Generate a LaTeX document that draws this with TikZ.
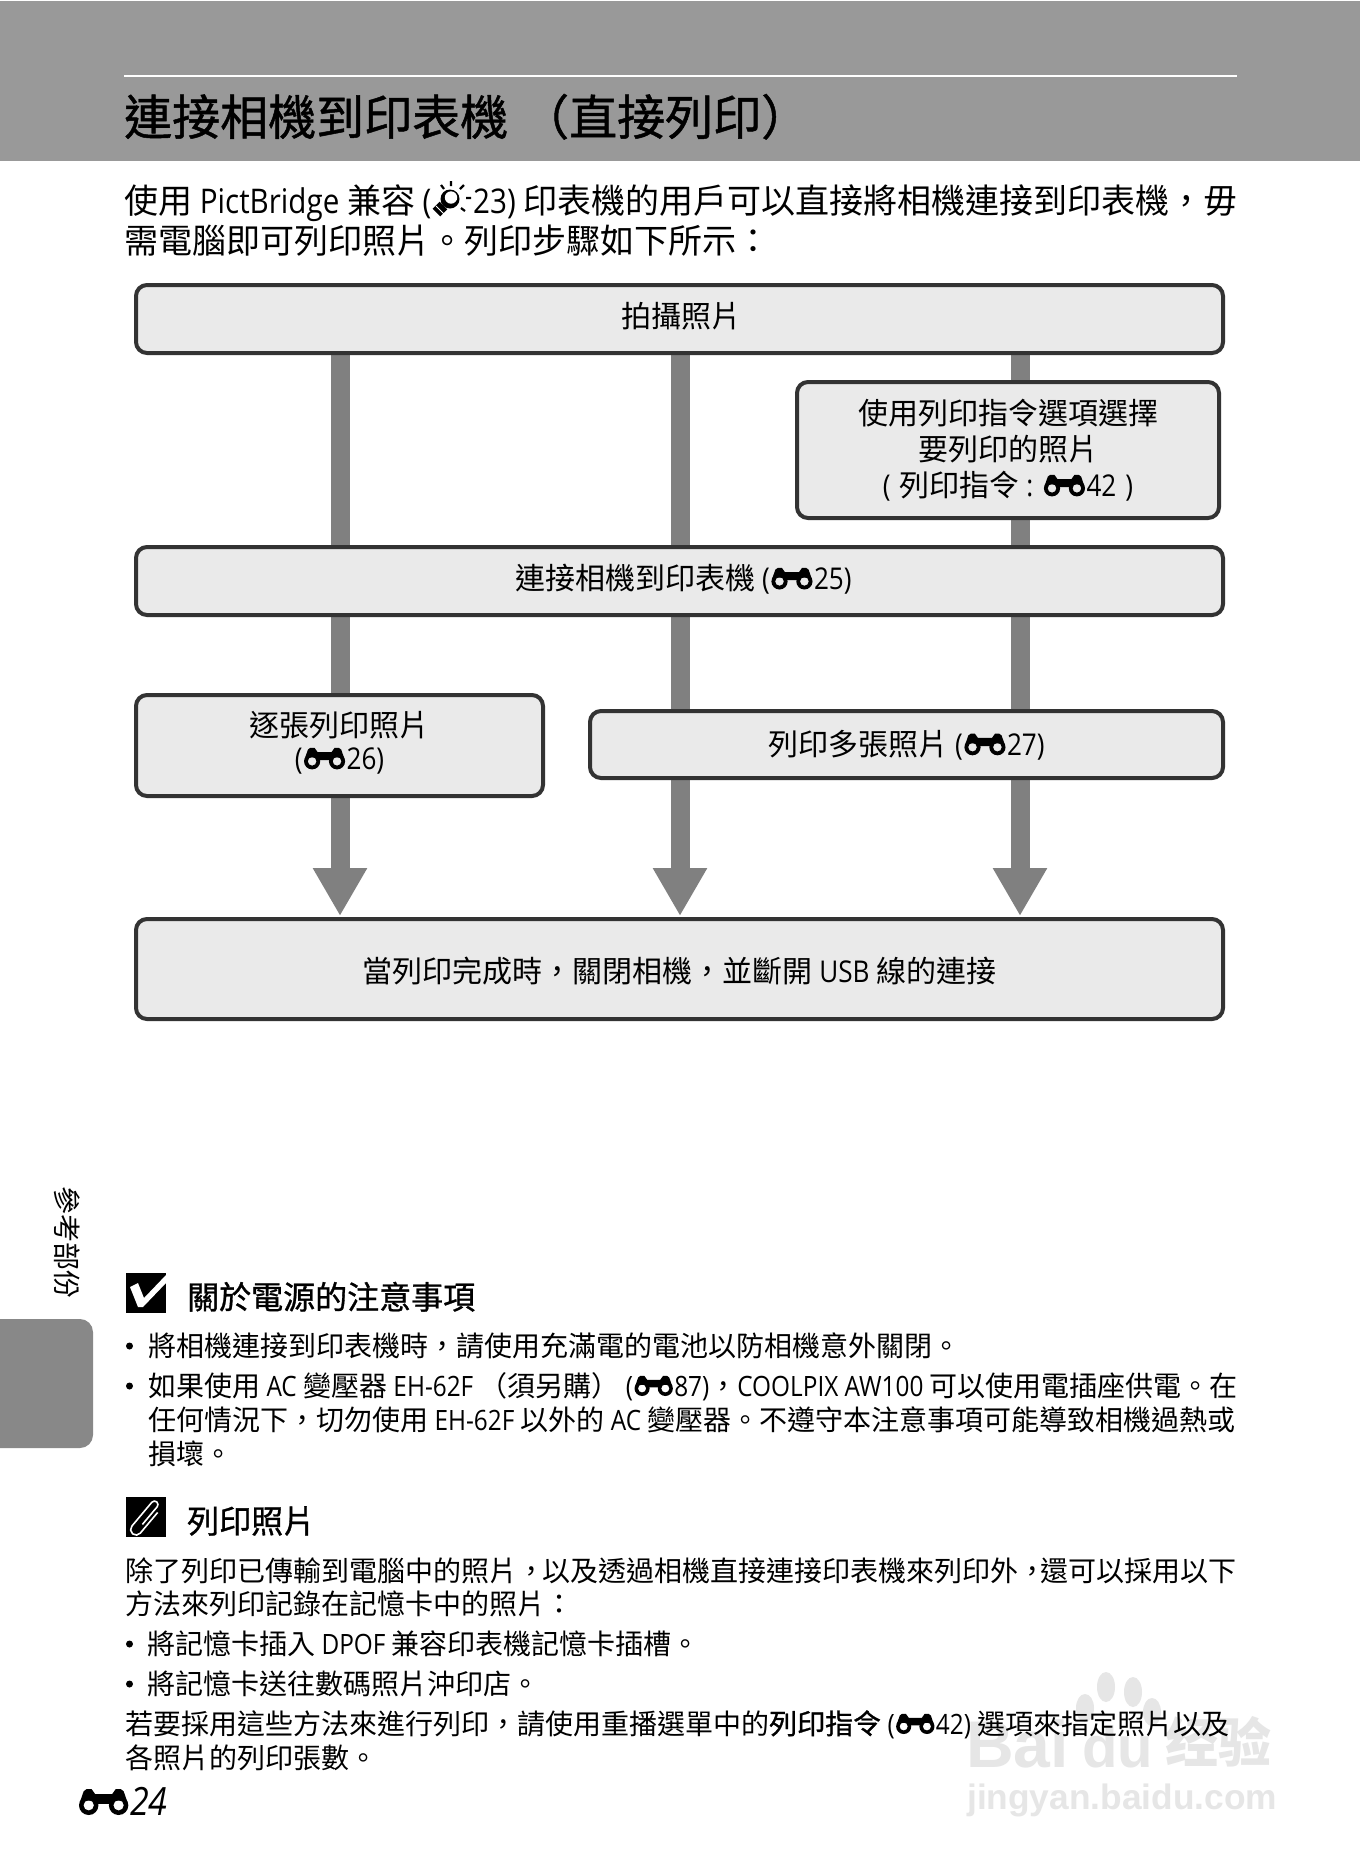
\documentclass[tikz,border=0pt]{standalone}
\usepackage{fontspec}
\usetikzlibrary{arrows.meta}
\setmainfont{Noto Sans CJK TC}
\newfontfamily\semib[FakeBold=1.0]{Noto Sans CJK TC}
\newfontfamily\latfont[FakeStretch=.87]{Open Sans}
\newfontfamily\wmfont{Liberation Sans}
\newfontfamily\wmcjk{Noto Sans CJK SC}
\newcommand\la[1]{{\latfont #1}}
\newcommand\bino{\hspace{.05em}\begin{pgfpicture}%
\pgfsetcornersarced{\pgfpointorigin}%
\pgfseteorule
\pgfpathcircle{\pgfpoint{.28em}{.27em}}{.27em}%
\pgfpathcircle{\pgfpoint{.28em}{.27em}}{.145em}%
\pgfpathcircle{\pgfpoint{1.11em}{.27em}}{.27em}%
\pgfpathcircle{\pgfpoint{1.11em}{.27em}}{.145em}%
\pgfusepath{fill}%
\pgfsetnonzerorule
\pgfpathmoveto{\pgfpoint{.05em}{.4em}}%
\pgfpathlineto{\pgfpoint{.14em}{.66em}}%
\pgfpathlineto{\pgfpoint{.22em}{.72em}}%
\pgfpathlineto{\pgfpoint{.36em}{.72em}}%
\pgfpathlineto{\pgfpoint{.46em}{.58em}}%
\pgfpathlineto{\pgfpoint{.93em}{.58em}}%
\pgfpathlineto{\pgfpoint{1.03em}{.72em}}%
\pgfpathlineto{\pgfpoint{1.17em}{.72em}}%
\pgfpathlineto{\pgfpoint{1.25em}{.66em}}%
\pgfpathlineto{\pgfpoint{1.34em}{.4em}}%
\pgfpathlineto{\pgfpoint{.9em}{.4em}}%
\pgfpathlineto{\pgfpoint{.9em}{.31em}}%
\pgfpathlineto{\pgfpoint{.49em}{.31em}}%
\pgfpathlineto{\pgfpoint{.49em}{.4em}}%
\pgfpathclose
\pgfusepath{fill}%
\end{pgfpicture}\hspace{.05em}}
\definecolor{hdr}{HTML}{999999}
\definecolor{boxfill}{HTML}{EAEAEA}
\definecolor{boxline}{HTML}{333333}
\definecolor{barcol}{HTML}{808080}
\definecolor{tabc}{HTML}{888888}
\definecolor{wm}{HTML}{E6E6E6}
\pgfdeclarelayer{back}
\pgfsetlayers{back,main}
\tikzset{
  flow/.style={draw=boxline,fill=boxfill,line width=4pt,rounded corners=11pt,align=center,inner sep=0pt,font=\fontsize{30}{36}\selectfont},
  conn/.style={draw=barcol,line width=19pt},
  connarrow/.style={conn,-{Triangle[width=51pt,length=48pt]},shorten >=1pt},
  textline/.style={anchor=base west,inner sep=0pt,font=\fontsize{28}{28}\selectfont},
  introline/.style={textline,font=\fontsize{34}{34}\selectfont},
  headline/.style={textline,font=\fontsize{32}{32}\selectfont\semib},
  markbox/.style={fill=black,draw=none},
}
\begin{document}
\begin{tikzpicture}[x=1pt,y=-1pt]
\useasboundingbox (0,0) rectangle (1360,1872);
\begin{pgfonlayer}{back}
\fill[white] (0,0) rectangle (1360,1872);
\end{pgfonlayer}
% header
\fill[hdr] (0,1) rectangle (1360,161);
\fill[white] (124,75) rectangle (1237,77);
\node[anchor=base west,inner sep=0pt,font=\fontsize{48}{48}\selectfont\semib] (title) at (124,135) {連接相機到印表機\hspace{13pt}（直接列印）};
% intro
\node[introline] (i1a) at (124,213) {使用\la{ PictBridge }兼容\la{ (}};
\node[introline] (i1b) at (473,213) {\la{23) }印表機的用戶可以直接將相機連接到印表機，毋};
\node[introline] (i2) at (124,253.5) {需電腦即可列印照片。列印步驟如下所示：};
% bulb
\fill[black] (450,199) circle (9.5pt);
\fill[white] (451,197.5) circle (6.2pt);
\fill[black] (440.35,216.35) -- (447.35,209.35) -- (439.65,201.65) -- (432.65,208.65) -- cycle;
\draw[white,line width=.8pt] (436,206) -- (444,214);
\draw[black,line width=2.2pt] (451,181) -- (451,186)  (441,185) -- (444,189) (464,185) -- (460,189) (471,198) -- (466,198) (465,211) -- (461,208);
% flow nodes
\coordinate (c1) at (340,0);
\coordinate (c2) at (680,0);
\coordinate (c3) at (1020,0);
\node[flow,minimum width=1087pt,minimum height=68pt,text height=25pt,text depth=7.2pt] (shoot) at (679.5,319) {\hspace{4pt}拍攝照片};
\node[flow,minimum width=422pt,minimum height=136pt,text height=100pt,text depth=7.2pt] (order) at (1008,450) {使用列印指令選項選擇\\要列印的照片\\\la{(}\hspace{9pt}列印指令\la{ : }\bino\la{42}\hspace{9pt}\la{)}};
\node[flow,minimum width=1087pt,minimum height=68pt,text height=25pt,text depth=8pt] (connect) at (679.5,581) {\hspace{8pt}連接相機到印表機\la{ (}\bino\la{25)}};
\node[flow,minimum width=407pt,minimum height=101pt,font=\fontsize{30}{33}\selectfont,text height=55pt,text depth=7.2pt] (single) at (339.5,745.5) {逐張列印照片\\\la{(}\bino\la{26)}};
\node[flow,minimum width=633pt,minimum height=67pt,text height=28pt,text depth=6.4pt] (multi) at (906.5,744.5) {列印多張照片\la{ (}\bino\la{27)}};
\node[flow,minimum width=1087pt,minimum height=100pt,text height=32pt,text depth=5.8pt] (finish) at (679.5,969) {當列印完成時，關閉相機，並斷開\la{ USB }線的連接};
\begin{pgfonlayer}{back}
\draw[conn] (c1 |- shoot.south) -- (c1 |- connect.north);
\draw[conn] (c2 |- shoot.south) -- (c2 |- connect.north);
\draw[conn] (c3 |- shoot.south) -- (c3 |- order.north);
\draw[conn] (c3 |- order.south) -- (c3 |- connect.north);
\draw[conn] (c1 |- connect.south) -- (c1 |- single.north);
\draw[conn] (c2 |- connect.south) -- (c2 |- multi.north);
\draw[conn] (c3 |- connect.south) -- (c3 |- multi.north);
\draw[connarrow] (c1 |- single.south) -- (c1 |- finish.north);
\draw[connarrow] (c2 |- multi.south) -- (c2 |- finish.north);
\draw[connarrow] (c3 |- multi.south) -- (c3 |- finish.north);
\end{pgfonlayer}
% side tab
\fill[tabc,rounded corners=13pt] (-20,1319) rectangle (93,1448);
\node[inner sep=0pt,rotate=-90,font=\fontsize{28}{28}\selectfont] (side) at (67,1242) {參考部份};
% watermark
\begin{scope}[wm]
\node[inner sep=0pt,anchor=base west,text=wm,font=\fontsize{66}{66}\selectfont\wmfont\bfseries] (wmbai) at (966,1767) {Bai};
\node[inner sep=0pt,anchor=base west,text=wm,font=\fontsize{58}{58}\selectfont\wmfont\bfseries] (wmdu) at (1082,1767) {du};
\node[inner sep=0pt,anchor=base west,text=wm,font=\fontsize{53}{53}\selectfont\wmcjk\bfseries] (wmcn) at (1165,1762) {经验};
\node[inner sep=0pt,anchor=base west,text=wm,font=\fontsize{35.3}{35.3}\selectfont\wmfont\bfseries] (wmurl) at (967,1809) {jingyan.baidu.com};
\fill (1106,1687) ellipse (9pt and 15pt);
\fill (1133,1692) ellipse (9pt and 15pt);
\fill (1085,1708) ellipse (9pt and 14pt);
\fill (1152,1712) ellipse (9pt and 14pt);
\end{scope}
% notes: power
\fill[markbox] (126,1273) rectangle (166,1313);
\fill[white] (130,1287) -- (138,1283) -- (144,1298) -- (166,1275) -- (166,1283) -- (143,1307) -- (138,1307) -- cycle;
\node[headline] (h1) at (187,1309) {關於電源的注意事項};
\fill (129.5,1346) circle (3.5pt);
\node[textline] (n1) at (148,1356) {將相機連接到印表機時，請使用充滿電的電池以防相機意外關閉。};
\fill (129.5,1386) circle (3.5pt);
\node[textline] (n2) at (148,1396) {如果使用\la{ AC }變壓器\la{ EH-62F }（須另購）\la{ (}\bino\la{87)}，\la{COOLPIX AW100 }可以使用電插座供電。在};
\node[textline] (n3) at (148,1430) {任何情況下，切勿使用\la{ EH-62F }以外的\la{ AC }變壓器。不遵守本注意事項可能導致相機過熱或};
\node[textline] (n4) at (148,1464) {損壞。};
% notes: printing
\fill[markbox] (126,1497) rectangle (166,1537);
\begin{scope}[shift={(146,1517)},rotate=50,x=1pt,y=1pt]
\draw[white,line width=1.6pt] (-8,-2) -- (15,-2) arc (-90:90:3.5pt) -- (-16,5) arc (90:270:5.5pt) -- (11,-6);
\end{scope}
\node[headline] (h2) at (187,1533) {列印照片};
\node[textline] (p1) at (125,1581) {除了列印已傳輸到電腦中的照片，\hspace{-2.5pt}以及透過相機直接連接印表機來列印外，\hspace{-6pt}還可以採用以下};
\node[textline] (p2) at (125,1614) {方法來列印記錄在記憶卡中的照片：};
\fill (129.5,1644) circle (3.5pt);
\node[textline] (p3) at (147,1654) {將記憶卡插入\la{ DPOF }兼容印表機記憶卡插槽。};
\fill (129.5,1684) circle (3.5pt);
\node[textline] (p4) at (147,1694) {將記憶卡送往數碼照片沖印店。};
\node[textline] (p5) at (125,1734) {若要採用這些方法來進行列印，請使用重播選單中的{\semib 列印指令}\la{ (}\bino\la{42) }選項來指定照片以及};
\node[textline] (p6) at (125,1768) {各照片的列印張數。};
% footer
\node[textline,font=\fontsize{36}{36}\selectfont] (foot) at (77,1815) {\bino{\fontsize{39}{39}\selectfont\latfont\itshape 24}};
\end{tikzpicture}
\end{document}
